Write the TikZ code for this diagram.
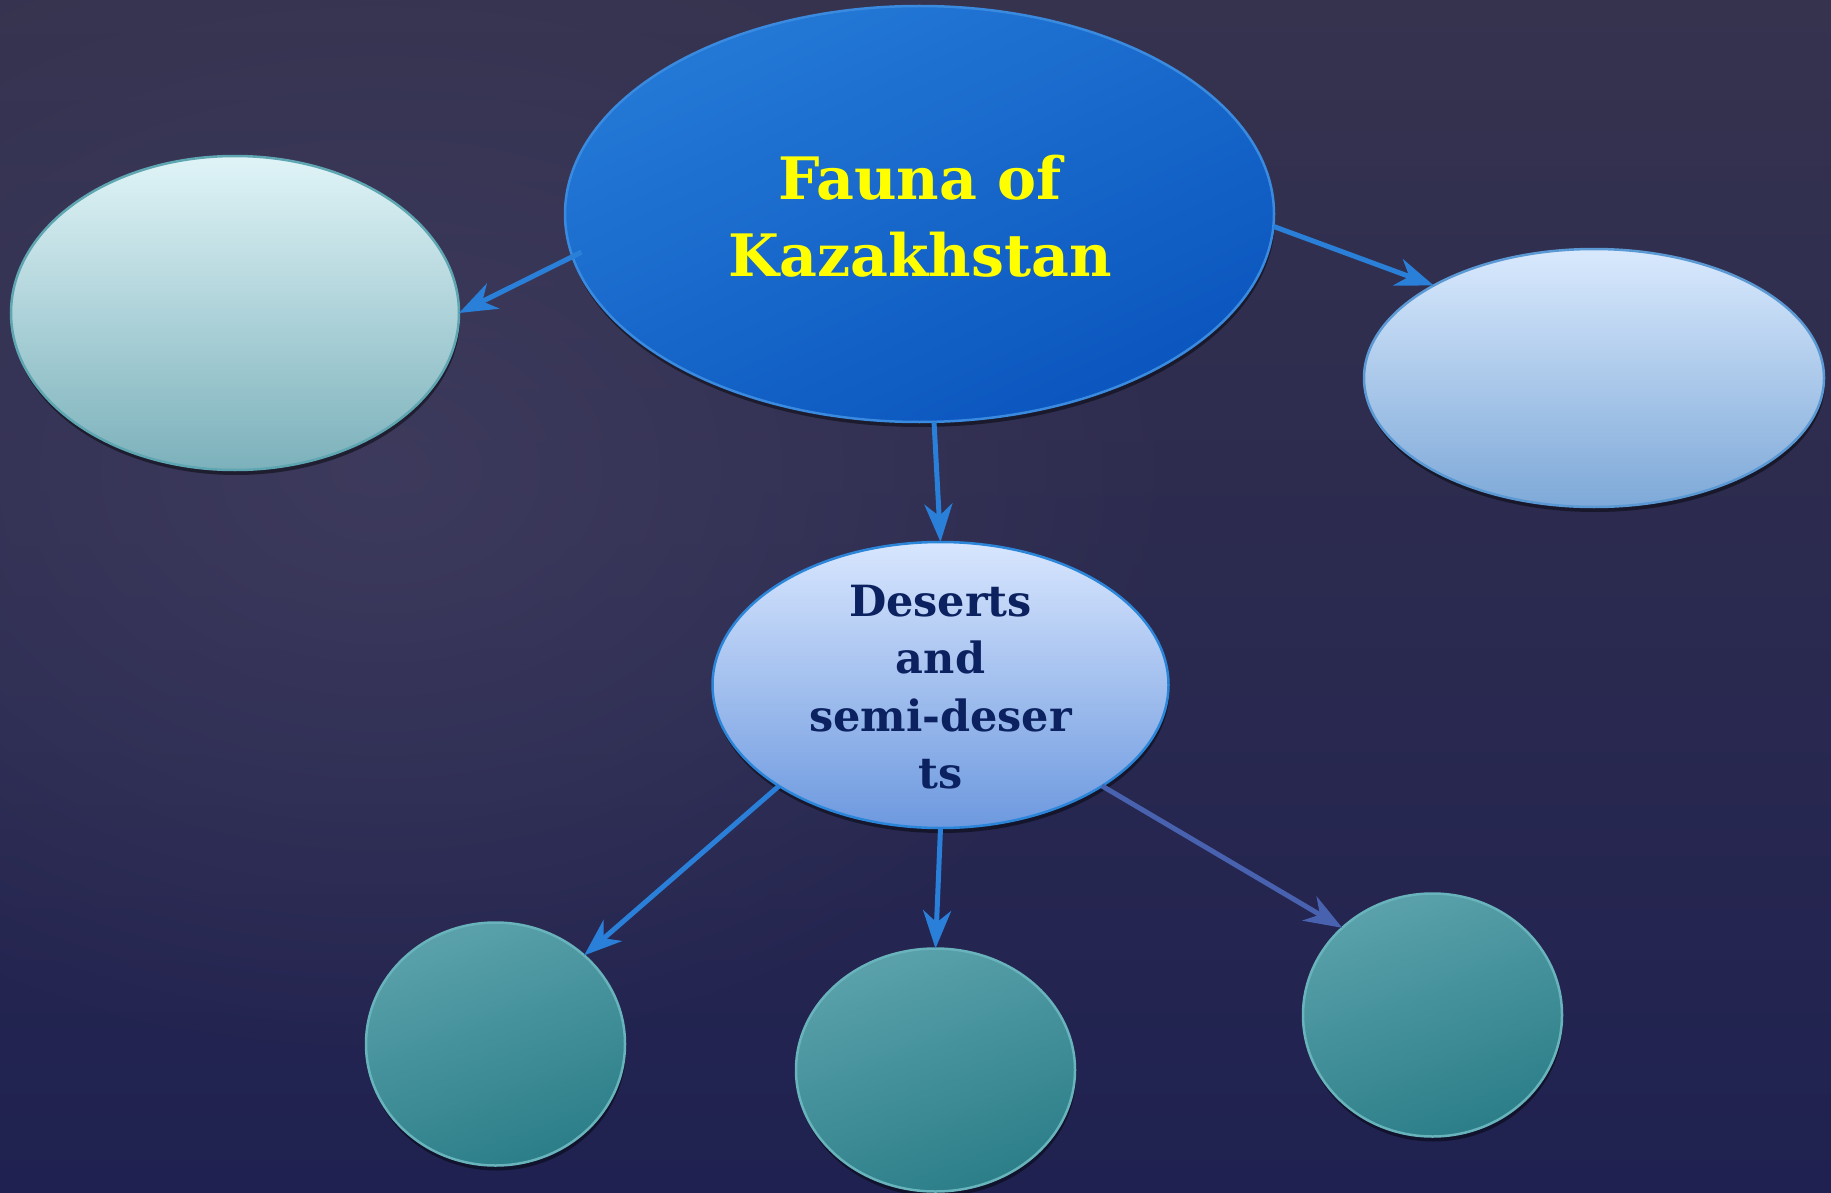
\documentclass[tikz,border=0pt]{standalone}
\usepackage{fontspec}
\newfontfamily\dvs{DejaVu Serif}
\usetikzlibrary{shapes.geometric,arrows.meta,shadows,fadings}
\definecolor{bgtop}{HTML}{36334F}
\definecolor{bgbot}{HTML}{1F2150}
\definecolor{bgglow}{HTML}{413E60}
\definecolor{mainTop}{HTML}{2479D6}
\definecolor{mainBot}{HTML}{0A55BE}
\definecolor{mainLine}{HTML}{3A8AE0}
\definecolor{leftTop}{HTML}{E0F4F7}
\definecolor{leftBot}{HTML}{7CB1BB}
\definecolor{leftLine}{HTML}{5EA6B1}
\definecolor{rightTop}{HTML}{D9E9FD}
\definecolor{rightBot}{HTML}{7EA9D8}
\definecolor{rightLine}{HTML}{5B99D4}
\definecolor{midTop}{HTML}{D8E6FE}
\definecolor{midBot}{HTML}{6D99DF}
\definecolor{midLine}{HTML}{2B86DA}
\definecolor{botTop}{HTML}{5AA1AB}
\definecolor{botBot}{HTML}{2B7E88}
\definecolor{botLine}{HTML}{69B4BC}
\definecolor{arrowBlue}{HTML}{2A7FD8}
\definecolor{arrowSlate}{HTML}{4862B0}
\definecolor{titleYellow}{HTML}{FFFF00}
\definecolor{midText}{HTML}{0C2260}
\tikzfading[name=glowfade, inner color=transparent!0, outer color=transparent!100]
\begin{document}
\begin{tikzpicture}[x=1pt,y=-1pt,
  bub/.style={ellipse, inner sep=0pt, outer sep=0pt, line width=2.5pt,
    drop shadow={shadow xshift=1pt, shadow yshift=-5pt, opacity=0.45, fill=black}},
  mainbub/.style={bub, draw=mainLine, top color=mainTop, bottom color=mainBot, shading angle=25,
    minimum width=709pt, minimum height=416pt},
  leftbub/.style={bub, draw=leftLine, top color=leftTop, bottom color=leftBot,
    minimum width=448pt, minimum height=314pt},
  rightbub/.style={bub, draw=rightLine, top color=rightTop, bottom color=rightBot,
    minimum width=460pt, minimum height=258pt},
  midbub/.style={bub, draw=midLine, top color=midTop, bottom color=midBot,
    minimum width=456pt, minimum height=286pt},
  botbub/.style={bub, draw=botLine, top color=botTop, bottom color=botBot, shading angle=20,
    minimum width=259pt, minimum height=243pt},
  titletext/.style={align=center, text=titleYellow, inner sep=0pt,
    font=\dvs\bfseries\fontsize{58.5}{77}\selectfont},
  midtextstyle/.style={align=center, text=midText, inner sep=0pt,
    font=\dvs\bfseries\fontsize{43}{57.5}\selectfont},
  conn/.style={line width=5pt, draw=arrowBlue,
    -{Stealth[length=38pt, width=28pt, inset=12pt]}},
]
\useasboundingbox (0,0) rectangle (1831,1193);
% background
\shade[top color=bgtop, bottom color=bgbot] (0,0) rectangle (1831,1193);
\fill[bgglow, path fading=glowfade, fill opacity=0.8] (380,470) ellipse [x radius=820, y radius=600];

% nodes
\node[mainbub] (main) at (919.5,214) {};
\node[leftbub] (left) at (235,313) {};
\node[rightbub] (right) at (1594,378) {};
\node[midbub] (mid) at (940.5,685) {};
\node[botbub] (bl) at (495.5,1044) {};
\node[botbub, minimum width=279pt] (bm) at (935.5,1070) {};
\node[botbub] (br) at (1432.5,1015) {};

\node[titletext] (title) at (920,216) {Fauna of\\Kazakhstan};
\node[midtextstyle] (midlabel) at (940.5,687) {Deserts\\and\\semi-deser\\ts};

% connectors
\draw[conn, shorten <=-10pt] (main.187) -- (left.0);
\draw[conn] (main.-2.5) -- (right.150.5);
\draw[conn] (main.274.6) -- (mid.90);
\draw[conn] (mid.212.5) -- (bl.45.4);
\draw[conn] (mid.270) -- (bm.90);
\draw[conn, draw=arrowSlate] (mid.-32.7) -- (br.136.9);
\end{tikzpicture}
\end{document}
